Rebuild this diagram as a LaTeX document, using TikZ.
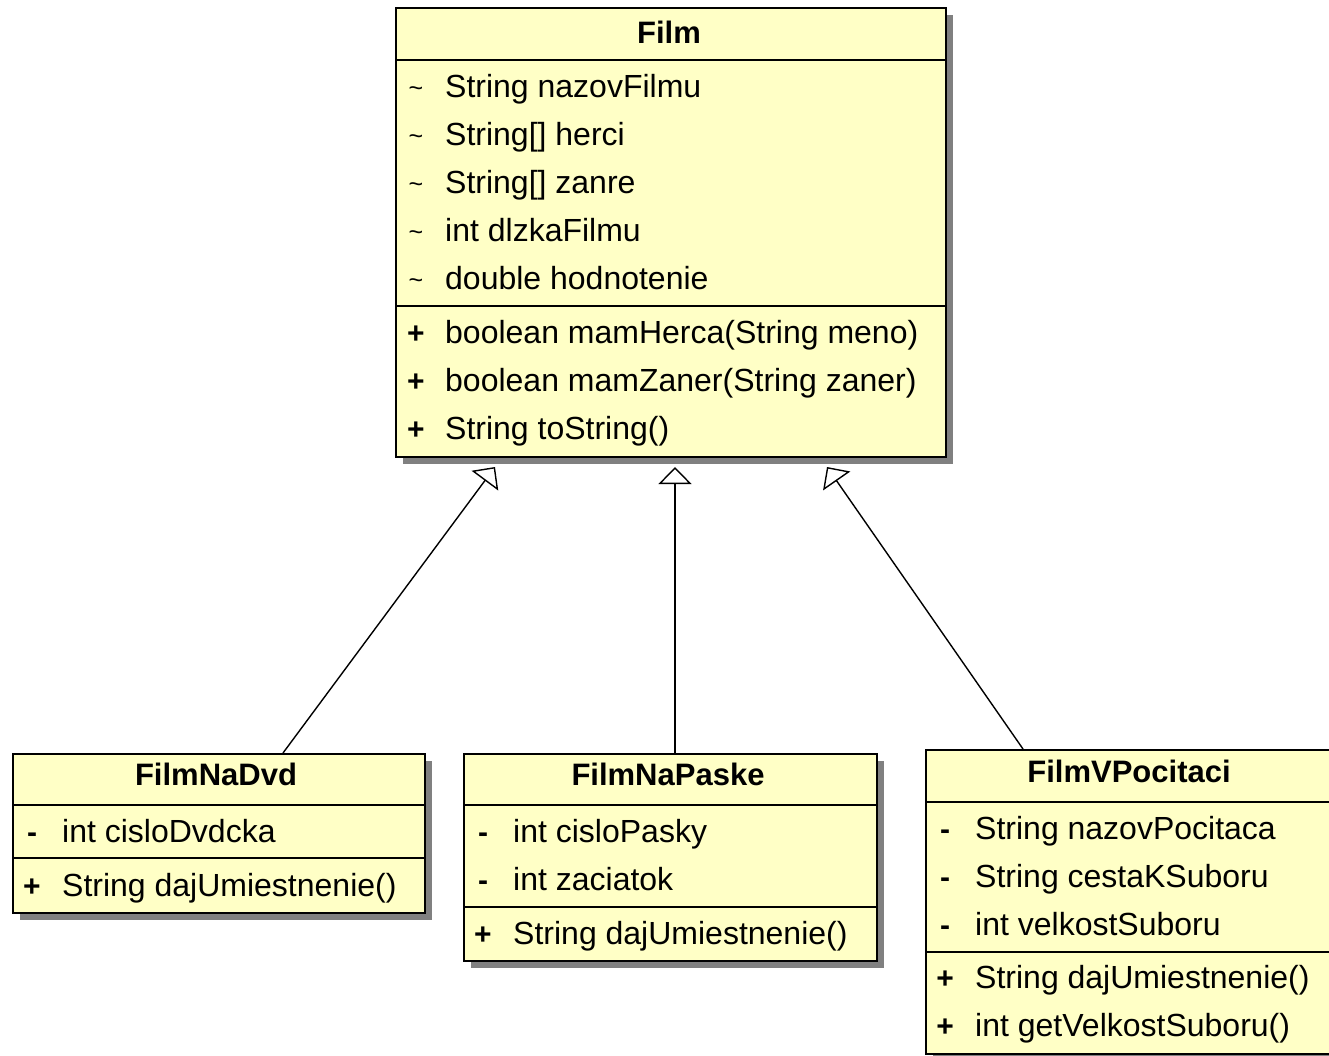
\documentclass[tikz,border=0pt]{standalone}
\usepackage{fontspec}
\setmainfont{Liberation Sans}
\usetikzlibrary{arrows.meta,shadows,calc}
\definecolor{classfill}{HTML}{FFFFC6}
\definecolor{shadowgray}{HTML}{808080}
\newcommand{\vistilde}{{\fontsize{25}{28}\selectfont\mdseries\raisebox{1pt}{\textasciitilde}}}
\begin{document}
\begin{tikzpicture}[x=1pt,y=-1pt,
 classbox/.style={draw=black, line width=2pt, fill=classfill, rectangle, anchor=north west, inner sep=0pt,
   drop shadow={shadow xshift=7pt, shadow yshift=-7pt, fill=shadowgray, opacity=1}},
 divider/.style={line width=1.6pt},
 member/.style={anchor=base west, inner sep=0pt, font=\fontsize{32}{38}\selectfont},
 vis/.style={anchor=base, inner sep=0pt, font=\fontsize{30}{36}\selectfont\bfseries},
 title/.style={anchor=base, inner sep=0pt, font=\fontsize{31}{36}\selectfont\bfseries},
 inherit/.style={line width=1.4pt, -{Triangle[open, length=17pt, width=33pt, line width=1.4pt]}}
]
\useasboundingbox (0,0) rectangle (1329,1055);

% ---------- Film ----------
\node[classbox, minimum width=550pt, minimum height=449pt] (film) at (395,7) {};
\draw[divider] (film.west |- 0,60) -- (film.east |- 0,60);
\draw[divider] (film.west |- 0,306) -- (film.east |- 0,306);
\node[title] (filmT) at ($(film.north)+(-2,36)$) {Film};
\foreach \v/\t/\y [count=\i] in {
  {\vistilde}/{String nazovFilmu}/97,
  {\vistilde}/{String[] herci}/145,
  {\vistilde}/{String[] zanre}/193,
  {\vistilde}/{int dlzkaFilmu}/241,
  {\vistilde}/{double hodnotenie}/289,
  {+}/{boolean mamHerca(String meno)}/343,
  {+}/{boolean mamZaner(String zaner)}/391,
  {+}/{String toString()}/439}{
  \node[vis] (fv\i) at (416,\y) {\v};
  \node[member] (fm\i) at (445,\y) {\t};
}

% ---------- FilmNaDvd ----------
\node[classbox, minimum width=412pt, minimum height=159pt] (dvd) at (12,753) {};
\draw[divider] (dvd.west |- 0,805) -- (dvd.east |- 0,805);
\draw[divider] (dvd.west |- 0,858) -- (dvd.east |- 0,858);
\node[title] (dvdT) at (216,785) {FilmNaDvd};
\foreach \v/\t/\y [count=\i] in {
  {-}/{int cisloDvdcka}/842,
  {+}/{String dajUmiestnenie()}/896}{
  \node[vis] (dv\i) at (32,\y) {\v};
  \node[member] (dm\i) at (62,\y) {\t};
}

% ---------- FilmNaPaske ----------
\node[classbox, minimum width=413pt, minimum height=207pt] (paske) at (463,753) {};
\draw[divider] (paske.west |- 0,805) -- (paske.east |- 0,805);
\draw[divider] (paske.west |- 0,907) -- (paske.east |- 0,907);
\node[title] (paskeT) at (668,785) {FilmNaPaske};
\foreach \v/\t/\y [count=\i] in {
  {-}/{int cisloPasky}/842,
  {-}/{int zaciatok}/890,
  {+}/{String dajUmiestnenie()}/944}{
  \node[vis] (pv\i) at (483,\y) {\v};
  \node[member] (pm\i) at (513,\y) {\t};
}

% ---------- FilmVPocitaci ----------
\node[classbox, minimum width=420pt, minimum height=304pt] (vpc) at (925,749) {};
\draw[divider] (vpc.west |- 0,802) -- (vpc.east |- 0,802);
\draw[divider] (vpc.west |- 0,952) -- (vpc.east |- 0,952);
\node[title] (vpcT) at (1129,782) {FilmVPocitaci};
\foreach \v/\t/\y [count=\i] in {
  {-}/{String nazovPocitaca}/839,
  {-}/{String cestaKSuboru}/887,
  {-}/{int velkostSuboru}/935,
  {+}/{String dajUmiestnenie()}/988,
  {+}/{int getVelkostSuboru()}/1036}{
  \node[vis] (vv\i) at (945,\y) {\v};
  \node[member] (vm\i) at (975,\y) {\t};
}

% ---------- generalizations ----------
\draw[inherit] ($(dvd.north west)+(271,0)$) -- ($(film.south west)+(100,9)$);
\draw[inherit] ($(paske.north west)+(212,0)$) -- ($(film.south west)+(280,9)$);
\draw[inherit] ($(vpc.north west)+(98,0)$) -- ($(film.south west)+(432,9)$);
\end{tikzpicture}
\end{document}
